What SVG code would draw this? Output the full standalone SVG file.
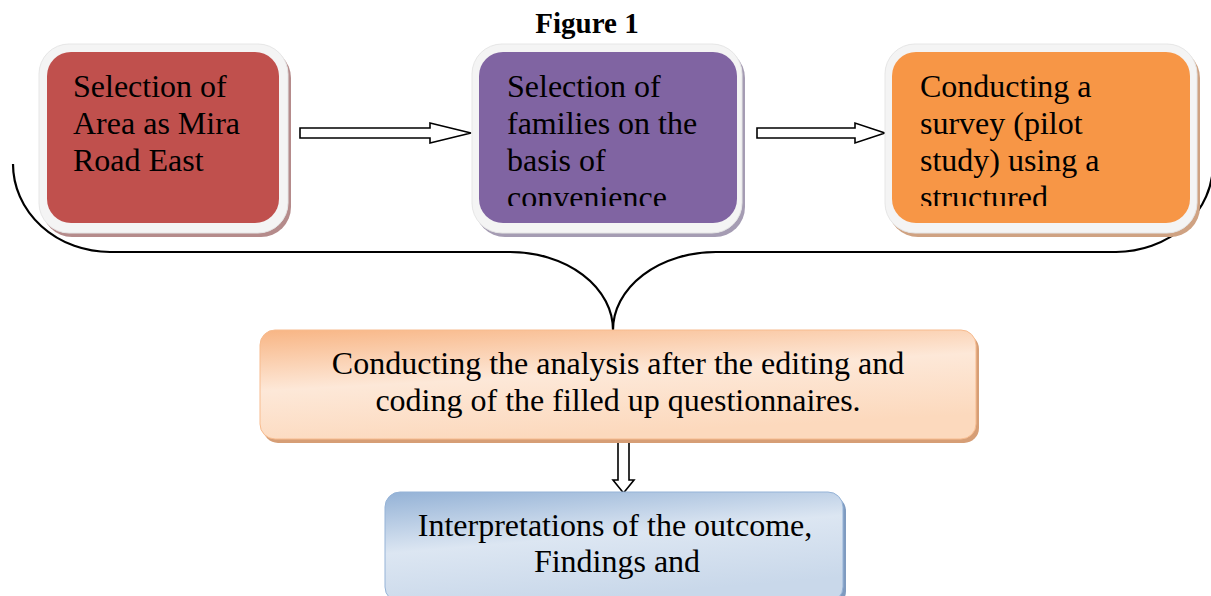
<svg xmlns="http://www.w3.org/2000/svg" width="1211" height="596" viewBox="0 0 1211 596">
<style>
.t{font-family:"Liberation Serif","Times New Roman",serif;font-size:32px;fill:#000}
.c{text-anchor:middle}
.frame{fill:#f4f4f4;stroke:#e6e6e6;stroke-width:1}
.arr{fill:#fff;stroke:#000;stroke-width:1.6;stroke-linejoin:miter}
.brace{fill:none;stroke:#000;stroke-width:2.2}
</style>
<defs>
<linearGradient id="gPeach" x1="0" y1="0" x2="0.35" y2="1">
<stop offset="0" stop-color="#f8b584"/>
<stop offset="0.5" stop-color="#fde8d8"/>
<stop offset="1" stop-color="#fcd9bd"/>
</linearGradient>
<linearGradient id="gBlue" x1="0" y1="0" x2="0.35" y2="1">
<stop offset="0" stop-color="#94b2d6"/>
<stop offset="0.5" stop-color="#dce6f2"/>
<stop offset="1" stop-color="#c9d8ea"/>
</linearGradient>
<clipPath id="clipTop"><rect x="0" y="52" width="1211" height="154"/></clipPath>
</defs>

<text x="587" y="33" font-family="Liberation Serif, Times New Roman, serif" font-size="29" font-weight="bold" text-anchor="middle">Figure 1</text>

<g id="connectors">
<path class="brace" d="M13,164 A97,88 0 0 0 110,252 L510,252 A103,78 0 0 1 613,330 A103,78 0 0 1 716,252 L1116,252 A97,88 0 0 0 1213,164"/>
<polygon class="arr" points="300,128 430,128 430,123 471,133 430,143 430,138 300,138"/>
<polygon class="arr" points="757,128 855,128 855,123 885,133 855,143 855,138 757,138"/>
<polygon class="arr" points="618,438 629,438 629,480 634,480 623.5,493 613,480 618,480"/>
</g>

<g id="node1">
<rect x="42" y="48" width="249" height="189" rx="30" fill="#b58b8b"/>
<rect class="frame" x="39" y="44" width="249" height="189" rx="30"/>
<rect x="47" y="52" width="232" height="171" rx="24" fill="#c0504d"/>
<g clip-path="url(#clipTop)">
<text class="t" x="73" y="97">Selection of</text>
<text class="t" x="73" y="134">Area as Mira</text>
<text class="t" x="73" y="171">Road East</text>
</g>
</g>

<g id="node2">
<rect x="475" y="48" width="270" height="189" rx="30" fill="#a59cb3"/>
<rect class="frame" x="472" y="44" width="270" height="189" rx="30"/>
<rect x="479" y="52" width="258" height="171" rx="24" fill="#8064a2"/>
<g clip-path="url(#clipTop)">
<text class="t" x="507" y="97">Selection of</text>
<text class="t" x="507" y="134">families on the</text>
<text class="t" x="507" y="171">basis of</text>
<text class="t" x="507" y="208">convenience</text>
</g>
</g>

<g id="node3">
<rect x="888" y="48" width="312" height="189" rx="30" fill="#cfa282"/>
<rect class="frame" x="885" y="44" width="312" height="189" rx="30"/>
<rect x="892" y="52" width="298" height="171" rx="24" fill="#f79646"/>
<g clip-path="url(#clipTop)">
<text class="t" x="920" y="97">Conducting a</text>
<text class="t" x="920" y="134">survey (pilot</text>
<text class="t" x="920" y="171">study) using a</text>
<text class="t" x="920" y="208">structured</text>
</g>
</g>

<g id="node4">
<rect x="263" y="334" width="716" height="109" rx="15" fill="#d69e76"/>
<rect x="260" y="330" width="716" height="109" rx="15" fill="url(#gPeach)" stroke="#f7bb8e" stroke-width="1"/>
<text class="t c" x="618" y="374">Conducting the analysis after the editing and</text>
<text class="t c" x="618" y="411">coding of the filled up questionnaires.</text>
</g>

<g id="node5">
<rect x="388" y="496" width="458" height="110" rx="15" fill="#7f9bc0"/>
<rect x="385" y="492" width="458" height="110" rx="15" fill="url(#gBlue)" stroke="#95b3d7" stroke-width="1"/>
<text class="t c" x="615" y="536">Interpretations of the outcome,</text>
<text class="t c" x="617" y="572">Findings and</text>
</g>
</svg>
